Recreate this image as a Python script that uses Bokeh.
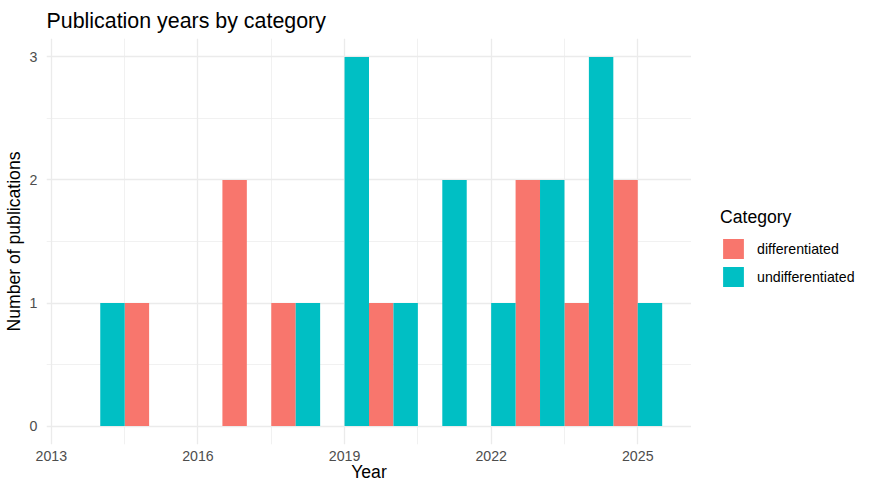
from bokeh.plotting import figure
from bokeh.layouts import row
from bokeh.models import Range1d, FixedTicker, Legend, LegendItem, ColumnDataSource
from bokeh.embed import file_html
from bokeh.resources import INLINE

# ---- data ----
years = [2014, 2015, 2016, 2017, 2018, 2019, 2020, 2021, 2022, 2023, 2024, 2025]
differentiated = [0, 1, 0, 2, 1, 0, 1, 0, 0, 2, 1, 2]
undifferentiated = [1, 0, 0, 0, 1, 3, 1, 2, 1, 2, 3, 1]
categories = ["differentiated", "undifferentiated"]
colors = ["#F8766D", "#00BFC4"]
x_ticks = [2013, 2016, 2019, 2022, 2025]
x_minor = [2014.5, 2017.5, 2020.5, 2023.5]
y_ticks = [0, 1, 2, 3]
y_minor = [0.5, 1.5, 2.5]

FONT = "Liberation Sans"

lo, hi = min(years) - 0.5, max(years) + 0.5
ex = (hi - lo) * 0.05
ymax = max(max(differentiated), max(undifferentiated))
ey = ymax * 0.05

p = figure(width=691, height=484, output_backend="svg", toolbar_location=None,
           x_range=Range1d(lo - ex, hi + ex), y_range=Range1d(-ey, ymax + ey),
           min_border_left=39, min_border_right=0, min_border_top=38,
           min_border_bottom=40)
p.outline_line_color = None
p.background_fill_color = "white"
p.border_fill_color = "white"

p.title.text = "Publication years by category"
p.title.text_font = FONT
p.title.text_font_size = "21.4px"
p.title.text_font_style = "normal"
p.title.text_color = "black"
p.title.standoff = 12

renderers = []
for cat, vals, col, off in [(categories[0], differentiated, colors[0], -0.25),
                            (categories[1], undifferentiated, colors[1], 0.25)]:
    xs = [y + off for y, v in zip(years, vals) if v > 0]
    tops = [v for v in vals if v > 0]
    src = ColumnDataSource(dict(x=xs, top=tops))
    r = p.vbar(x="x", top="top", bottom=0, width=0.5, source=src,
               fill_color=col, line_color=None)
    renderers.append(r)

p.xaxis.ticker = FixedTicker(ticks=x_ticks, minor_ticks=x_minor)
p.yaxis.ticker = FixedTicker(ticks=y_ticks, minor_ticks=y_minor)

for ax in [p.xaxis, p.yaxis]:
    ax.axis_line_color = None
    ax.major_tick_line_color = None
    ax.minor_tick_line_color = None
    ax.major_tick_out = 0
    ax.major_tick_in = 0
    ax.minor_tick_out = 0
    ax.minor_tick_in = 0
    ax.major_label_text_font = FONT
    ax.major_label_text_font_size = "14.2px"
    ax.major_label_text_color = "#4D4D4D"
    ax.axis_label_text_font = FONT
    ax.axis_label_text_font_size = "17.6px"
    ax.axis_label_text_font_style = "normal"
    ax.axis_label_text_color = "black"

p.xaxis.axis_label = "Year"
p.yaxis.axis_label = "Number of publications"
p.xaxis.major_label_standoff = 6
p.xaxis.axis_label_standoff = -2
p.yaxis.major_label_standoff = 9
p.yaxis.axis_label_standoff = 3

for g in [p.xgrid, p.ygrid]:
    g.grid_line_color = "#EBEBEB"
    g.grid_line_width = 1.3
    g.minor_grid_line_color = "#EBEBEB"
    g.minor_grid_line_width = 0.7

# ---- legend panel ----
lg = figure(width=168, height=484, output_backend="svg", toolbar_location=None,
            x_range=Range1d(0, 1), y_range=Range1d(0, 1),
            x_axis_location=None, y_axis_location=None,
            min_border_left=0, min_border_right=0, min_border_top=0, min_border_bottom=0)
lg.grid.visible = False
lg.outline_line_color = None
lg.background_fill_color = "white"
lg.border_fill_color = "white"
lg_renderers = [lg.vbar(x=[5], top=[1], width=0.5, fill_color=c, line_color=None) for c in colors]

legend = Legend(items=[LegendItem(label=categories[i], renderers=[lg_renderers[i]]) for i in range(2)],
                location=(29, 155))
legend.title = "Category"
legend.title_text_font = FONT
legend.title_text_font_size = "17.6px"
legend.title_text_font_style = "normal"
legend.title_text_color = "black"
legend.title_standoff = 8
legend.label_text_font = FONT
legend.label_text_font_size = "14.2px"
legend.label_text_color = "black"
legend.glyph_width = 26
legend.glyph_height = 25
legend.label_height = 25
legend.label_standoff = 11
legend.spacing = 3
legend.padding = 0
legend.margin = 0
legend.border_line_color = None
legend.background_fill_alpha = 0
lg.add_layout(legend, "center")

layout = row(p, lg)
open("out.html", "w").write(file_html(layout, INLINE))
